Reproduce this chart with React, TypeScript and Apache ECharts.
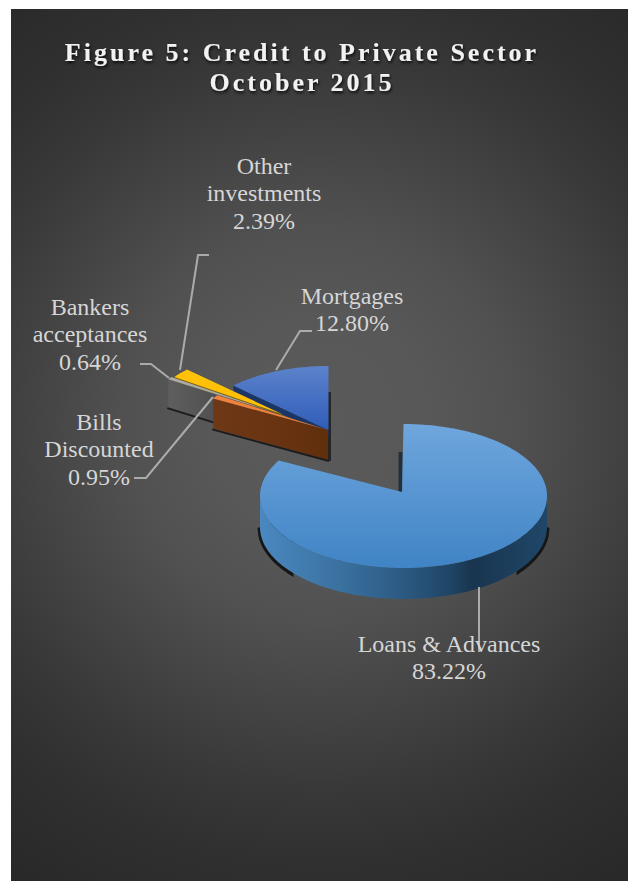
import React, { useEffect, useRef } from "react";
import * as echarts from "echarts";

const titleLines = ["Figure 5: Credit to Private Sector", "October 2015"];
const categories = ["Loans & Advances", "Bills\nDiscounted", "Bankers\nacceptances", "Other\ninvestments", "Mortgages"];
const shares = [83.22, 0.95, 0.64, 2.39, 12.8];
const drawOrder = [0, 4, 3, 2, 1];

const topColors = [
  ["#6FA6DD", "#4084C5"],
  ["#F4884A", "#ED7D31"],
  ["#B5B5B5", "#A0A0A0"],
  ["#FFC512", "#FFBD00"],
  ["#5C82CB", "#2F5DB9"],
];
const wallColors = ["#1E4468", "#6A3412", "#4C4C4C", "#7F6000", "#1B3566"];
const centers = [[403.5, 496], [328, 430], [279, 414], [282, 414], [328.5, 430]];
const apexes = [[402, 492], [328, 430], [279, 414], [282, 414], [328.5, 430]];
const radiiX = [143.5, 132, 132, 132, 132];
const radiiY = [72, 64, 64, 64, 64];
const depths = [31, 30, 28, 6, 6];

const labelPositions = [[449, 630], [99, 408], [90, 293], [264, 152], [352, 282]];
const leaders = [
  [[479, 587], [479, 652]],
  [[134, 478], [146, 478], [213, 397]],
  [[140, 364], [151, 364], [169, 378]],
  [[209, 255], [198, 255], [180, 370]],
  [[312, 331], [300, 331], [276, 370]],
];

const FONT = '"Liberation Serif", "Times New Roman", serif';
const rad = (d: number) => (d * Math.PI) / 180;

function sliceAngles(i: number) {
  const total = shares.reduce((a, b) => a + b, 0);
  const before = shares.slice(0, i).reduce((a, b) => a + b, 0);
  return [(before / total) * 360, ((before + shares[i]) / total) * 360];
}

function rimPoint(i: number, a: number, dy = 0) {
  return [centers[i][0] + radiiX[i] * Math.sin(rad(a)), centers[i][1] - radiiY[i] * Math.cos(rad(a)) + dy];
}

function arcPoints(i: number, a0: number, a1: number, dy = 0) {
  const n = Math.max(2, Math.ceil(Math.abs(a1 - a0)));
  const pts: number[][] = [];
  for (let k = 0; k <= n; k++) pts.push(rimPoint(i, a0 + ((a1 - a0) * k) / n, dy));
  return pts;
}

function linear(x: number, y: number, x2: number, y2: number, stops: [number, string][]) {
  return {
    type: "linear", x, y, x2, y2, global: true,
    colorStops: stops.map(([offset, color]) => ({ offset, color })),
  };
}

function renderSlice(_: any, api: any) {
  const i = api.value(0) as number;
  const [a0, a1] = sliceAngles(i);
  const [ax, ay] = apexes[i];
  const d = depths[i];
  const children: any[] = [];
  const cy = centers[i][1];
  const cx = centers[i][0];
  const rx = radiiX[i];
  const ry = radiiY[i];

  // Curved outer wall, only the part facing the viewer.
  const f0 = Math.max(a0, 90);
  const f1 = Math.min(a1, 270);
  if (f1 > f0) {
    const pts = arcPoints(i, f0, f1, 0).concat(arcPoints(i, f1, f0, d));
    children.push({
      type: "polygon",
      shape: { points: pts },
      style: {
        fill: linear(cx - rx, 0, cx + rx, 0, [
          [0, "#4B88C0"],
          [0.28, "#3A719F"],
          [0.5, "#2B5A82"],
          [0.66, "#1F4566"],
          [0.74, "#19354F"],
          [1, "#1F4769"],
        ]),
      },
    });
  }

  // Flat cut face on the start edge, when it faces the viewer.
  if (Math.sin(rad(a0)) < -0.001) {
    const o = rimPoint(i, a0);
    const fill =
      i === 1
        ? linear(o[0], 0, ax, 0, [[0, "#6E3716"], [0.5, "#6A3412"], [1, "#612F0C"]])
        : i === 2
        ? linear(o[0], 0, ax, 0, [[0, "#5E5E5E"], [0.5, "#4E4E4E"], [1, "#444444"]])
        : wallColors[i];
    children.push({
      type: "polygon",
      shape: { points: [[ax, ay], o, [o[0], o[1] + d], [ax, ay + d]] },
      style: { fill },
    });
    if (i === 1 || i === 2) {
      children.push({
        type: "polyline",
        shape: { points: [[o[0] - 1, o[1] + d + 1], [ax + 1, ay + d + 1]] },
        style: { stroke: "#1C1C1C", lineWidth: 2, fill: "none" },
      });
    }
  }

  // Top face.
  const top = [[ax, ay]].concat(arcPoints(i, a0, a1));
  children.push({
    type: "polygon",
    shape: { points: top },
    style: { fill: linear(0, cy - ry, 0, cy + (i === 0 ? ry : 0), [[0, topColors[i][0]], [1, topColors[i][1]]]) },
  });

  return { type: "group", children };
}

const outerShadow = (side: number, inner: number) => {
  const cx = centers[0][0];
  const cy = centers[0][1] + depths[0] + 1;
  const rx = radiiX[0] + 2.5;
  const ry = radiiY[0] + 2.5;
  const pts: number[][] = [];
  for (let dx = rx; dx >= inner; dx -= 1) {
    const t = dx / rx;
    pts.push([cx + side * dx, cy + ry * Math.sqrt(Math.max(0, 1 - t * t))]);
  }
  return pts.concat([[cx + side * inner, cy - 12]]);
};

export default function App() {
  const ref = useRef<HTMLDivElement>(null);
  useEffect(() => {
    const chart = echarts.init(ref.current!, undefined, { renderer: "svg" });
    const labels = categories.map((c, i) => ({
      type: "text",
      x: labelPositions[i][0],
      y: labelPositions[i][1],
      silent: true,
      z: 20,
      style: {
        text: `${c}\n${shares[i].toFixed(2)}%`,
        fontFamily: FONT,
        fontSize: 24,
        lineHeight: 27.5,
        fill: "#D6D6D6",
        textAlign: "center",
        textVerticalAlign: "top",
        verticalAlign: "middle",
      },
    }));
    const leaderLines = leaders.map((points) => ({
      type: "polyline",
      silent: true,
      z: 15,
      shape: { points },
      style: { stroke: "#ABABAB", lineWidth: 2, fill: "none" },
    }));
    chart.setOption({
      animation: false,
      title: {
        text: titleLines.join("\n"),
        left: 297,
        top: 32,
        textAlign: "center",
        textStyle: {
          fontFamily: FONT,
          fontWeight: "bold",
          fontSize: 26,
          lineHeight: 30,
          color: "#F2F2F2",
          textShadowColor: "rgba(0,0,0,0.8)",
          textShadowBlur: 3,
          textShadowOffsetX: 1,
          textShadowOffsetY: 2,
        },
      },
      graphic: [
        {
          type: "rect",
          silent: true,
          z: -10,
          shape: { x: 11, y: 9, width: 617, height: 872 },
          style: {
            fill: {
              type: "radial", x: 320, y: 425, r: 540, global: true,
              colorStops: [
                { offset: 0, color: "#5A5A5A" },
                { offset: 0.2, color: "#585858" },
                { offset: 0.36, color: "#515151" },
                { offset: 0.45, color: "#4A4A4A" },
                { offset: 0.68, color: "#383838" },
                { offset: 0.81, color: "#303030" },
                { offset: 1, color: "#292929" },
              ],
            },
          },
        },
        { type: "polygon", silent: true, z: -5, shape: { points: outerShadow(-1, 110) }, style: { fill: "#161616" } },
        { type: "polygon", silent: true, z: -5, shape: { points: outerShadow(1, 113) }, style: { fill: "#161616" } },
        { type: "rect", silent: true, z: -5, shape: { x: 398.5, y: 452, width: 4, height: 41 }, style: { fill: "#22303C" } },
        { type: "rect", silent: true, z: -5, shape: { x: 328, y: 392, width: 3, height: 69 }, style: { fill: "#262626" } },
        ...leaderLines,
        ...labels,
      ],
      xAxis: { show: false },
      yAxis: { show: false },
      series: [
        {
          type: "custom",
          coordinateSystem: "none",
          silent: true,
          z: 5,
          data: drawOrder.map((i) => [i]),
          encode: { value: 0 },
          renderItem: renderSlice,
        },
      ],
    });
    ref.current!.querySelectorAll("text").forEach((t) => {
      if (titleLines.some((l) => (t.textContent || "").includes(l))) {
        (t as SVGTextElement).style.letterSpacing = "3px";
      }
    });
    return () => chart.dispose();
  }, []);
  return <div ref={ref} style={{ position: "absolute", left: 0, top: 0, width: 628, height: 881 }} />;
}
